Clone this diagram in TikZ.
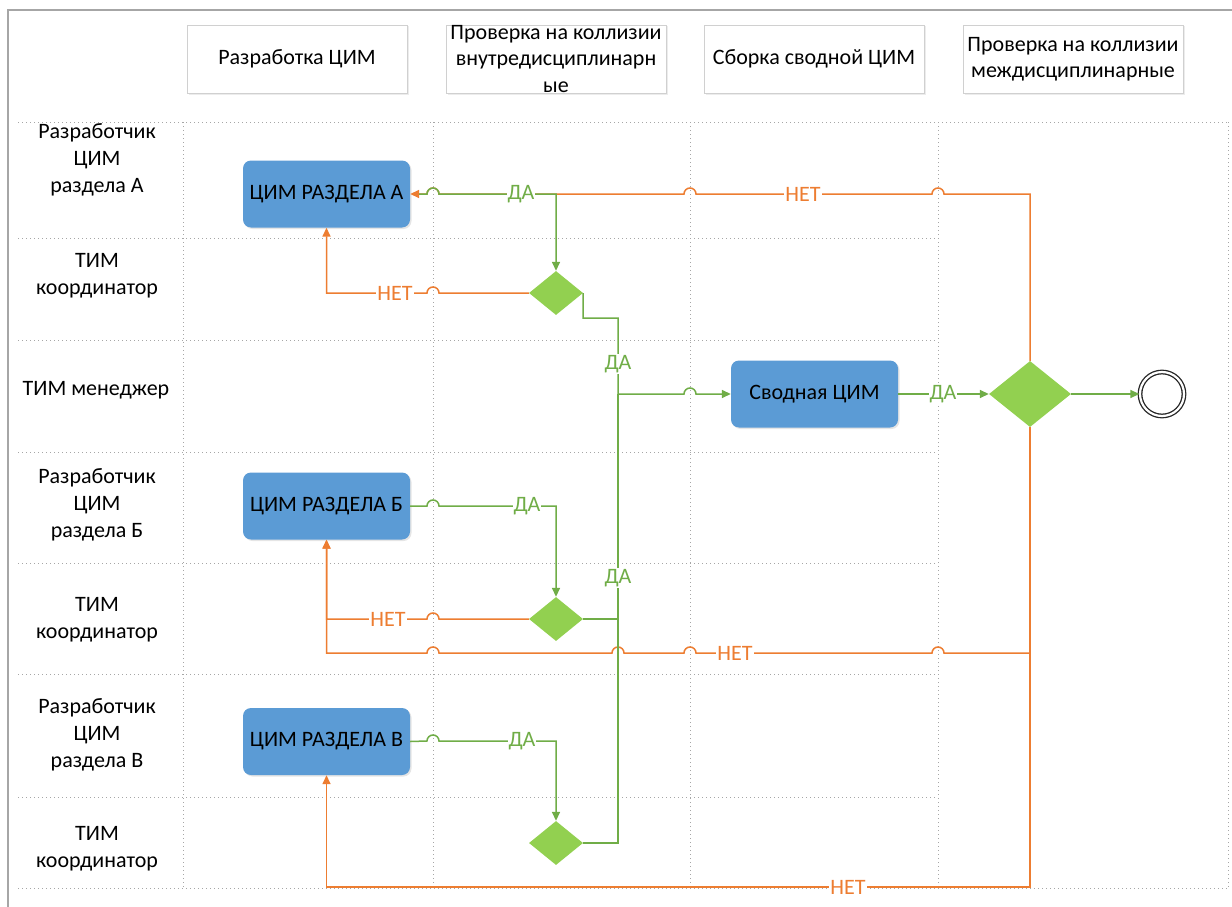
\documentclass[tikz,border=0pt]{standalone}
\usepackage{fontspec}
\setmainfont{Carlito}
\usetikzlibrary{arrows.meta,shapes.geometric,shadows}
\definecolor{lgreen}{HTML}{70AD47}
\definecolor{orng}{HTML}{ED7D31}
\definecolor{blu}{HTML}{5B9BD5}
\definecolor{dfill}{HTML}{92D050}
\definecolor{gridc}{HTML}{A6A6A6}
\definecolor{hdrc}{HTML}{D0D0D0}
\begin{document}
\begin{tikzpicture}[x=1pt,y=-1pt,
  hdr/.style={draw=hdrc, line width=0.8pt, fill=white, minimum width=220pt, minimum height=68pt, inner sep=0pt, align=center, font=\fontsize{22}{26.5}\selectfont,
    drop shadow={opacity=0.15, shadow xshift=1.5pt, shadow yshift=-1.5pt}},
  lane/.style={align=center, font=\fontsize{22}{27}\selectfont},
  task/.style={fill=blu, rounded corners=8pt, minimum width=167pt, minimum height=67pt, inner sep=0pt, font=\fontsize{22}{26}\selectfont,
    drop shadow={opacity=0.2, shadow xshift=1.5pt, shadow yshift=-1.5pt}},
  gate/.style={diamond, fill=dfill, inner sep=0pt, minimum width=54pt, minimum height=44pt},
  biggate/.style={diamond, fill=dfill, inner sep=0pt, minimum width=82pt, minimum height=66pt},
  gridline/.style={draw=gridc, line width=0.9pt, dash pattern=on 1pt off 3pt},
  yes/.style={draw=lgreen, line width=1.5pt},
  no/.style={draw=orng, line width=1.5pt},
  tip/.style={-{Triangle[length=9pt,width=8pt]}},
  lblG/.style={fill=white, text=lgreen, inner xsep=1pt, inner ysep=1pt, font=\fontsize{22}{24}\selectfont},
  lblO/.style={fill=white, text=orng, inner xsep=1pt, inner ysep=1pt, font=\fontsize{22}{24}\selectfont}
]
\useasboundingbox (0,0) rectangle (1232,907);
\clip (0,0) rectangle (1232,907);
\fill[white] (0,0) rectangle (1232,907);
% frame
\draw[gridc, line width=1.6pt] (8,930) -- (8,10) -- (1260,10);

% grid
\draw[gridline] (18,122) -- (1228,122);
\foreach \yy in {238,340,452,563,674,797} \draw[gridline] (18,\yy) -- (938,\yy);
\draw[gridline] (18,888) -- (1228,888);
\foreach \xx in {183,433,690,938,1228} \draw[gridline] (\xx,122) -- (\xx,888);

% headers
\node[hdr] (h1) at (297,59) {Разработка ЦИМ};
\node[hdr] (h2) at (556,59) {Проверка на коллизии\\внутредисциплинарн\\ые};
\node[hdr] (h3) at (814,59) {Сборка сводной ЦИМ};
\node[hdr] (h4) at (1073,59) {Проверка на коллизии\\междисциплинарные};

% lane labels
\node[lane] (l1) at (97,160) {Разработчик\\ЦИМ\\раздела А};
\node[lane] (l2) at (97,276) {ТИМ\\координатор};
\node[lane] (l3) at (96,390) {ТИМ менеджер};
\node[lane] (l4) at (97,505) {Разработчик\\ЦИМ\\раздела Б};
\node[lane] (l5) at (97,620) {ТИМ\\координатор};
\node[lane] (l6) at (97,735) {Разработчик\\ЦИМ\\раздела В};
\node[lane] (l7) at (97,849) {ТИМ\\координатор};

% tasks
\node[task] (A) at (326.5,194) {ЦИМ РАЗДЕЛА А};
\node[task] (B) at (326.5,506) {ЦИМ РАЗДЕЛА Б};
\node[task] (V) at (326.5,741.5) {ЦИМ РАЗДЕЛА В};
\node[task] (S) at (814.5,394) {Сводная ЦИМ};

% gateways
\node[gate] (dA) at (556,293) {};
\node[gate] (dB) at (556,619) {};
\node[gate] (dV) at (556,843) {};
\node[biggate] (dG) at (1030,394) {};

% end event
\node[circle, draw=black!85, line width=1.3pt, minimum size=44pt, inner sep=0pt, double=white, double distance=2.2pt] (end) at (1162,394) {};

% orange (НЕТ) connectors
\draw[no, tip] (dG.north) -- (1030,194) -- (944,194) arc[start angle=0,end angle=180,radius=6pt]
  -- (696,194) arc[start angle=0,end angle=180,radius=6pt]
  -- (439,194) arc[start angle=0,end angle=180,radius=6pt] -- (A.east);
\draw[no, tip] (dA.west) -- (439,293) arc[start angle=0,end angle=180,radius=6pt] -| (A.south);
\draw[no, tip] (dB.west) -- (439,619) arc[start angle=0,end angle=180,radius=6pt] -| (B.south);
\draw[no, tip] (dG.south) -- (1030,653) -- (944,653) arc[start angle=0,end angle=180,radius=6pt]
  -- (696,653) arc[start angle=0,end angle=180,radius=6pt]
  -- (624,653) arc[start angle=0,end angle=180,radius=6pt]
  -- (439,653) arc[start angle=0,end angle=180,radius=6pt] -| (B.south);
\draw[no, tip] (dG.south) -- (1030,887) -| (V.south);

% green (ДА) connectors
\draw[yes, tip, shorten <=9pt] (A.east) -- (427,194) arc[start angle=180,end angle=0,radius=6pt] -- (556,194) -- (dA.north);
\draw[yes, tip] (B.east) -- (427,506) arc[start angle=180,end angle=0,radius=6pt] -- (556,506) -- (dB.north);
\draw[yes, tip] (V.east) -- (427,741) arc[start angle=180,end angle=0,radius=6pt] -- (556,741) -- (dV.north);
\draw[yes, tip] (dA.east) -- (583,318) -- (618,318) -- (618,394) -- (684,394) arc[start angle=180,end angle=0,radius=6pt] -- (S.west);
\draw[yes] (dB.east) -- (618,619) -- (618,394);
\draw[yes] (dV.east) -- (618,843) -- (618,394);
\draw[yes, tip] (S.east) -- (dG.west);
\draw[yes, tip] (dG.east) -- (end.west);

% labels
\node[lblG] (y1) at (521,194) {ДА};
\node[lblO] (n1) at (803,194) {НЕТ};
\node[lblO] (n2) at (395,293) {НЕТ};
\node[lblG] (y2) at (618,364) {ДА};
\node[lblG] (y3) at (527,506) {ДА};
\node[lblG] (y4) at (618,578) {ДА};
\node[lblO] (n3) at (388,619) {НЕТ};
\node[lblO] (n4) at (735,653) {НЕТ};
\node[lblG] (y5) at (522,741) {ДА};
\node[lblO] (n5) at (848,887) {НЕТ};
\node[lblG] (y6) at (943,394) {ДА};
\end{tikzpicture}
\end{document}
